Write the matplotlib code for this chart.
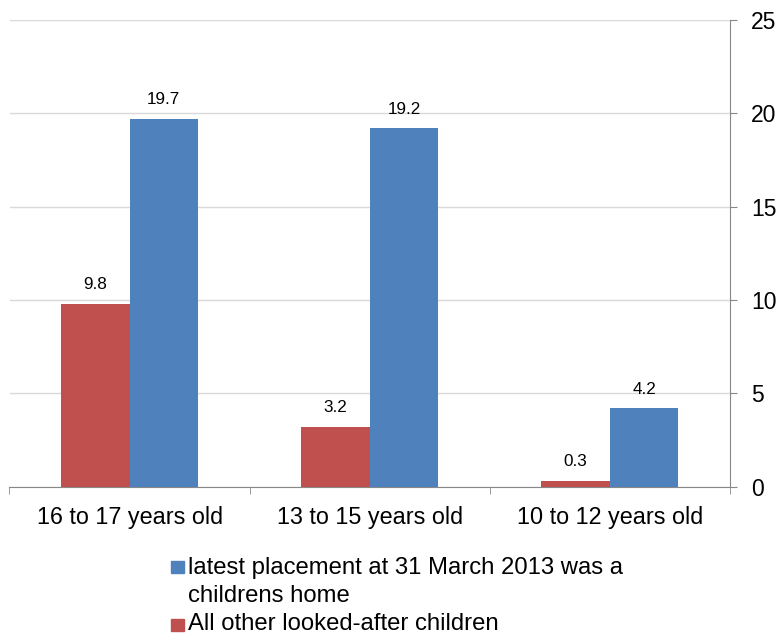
import matplotlib
matplotlib.use("Agg")
import matplotlib.pyplot as plt
from matplotlib.patches import Rectangle
import numpy as np

categories = ["16 to 17 years old", "13 to 15 years old", "10 to 12 years old"]
childrens_home = [19.7, 19.2, 4.2]
all_other = [9.8, 3.2, 0.3]
series_labels = ["latest placement at 31 March 2013 was a\nchildrens home",
                 "All other looked-after children"]
yticks = [0, 5, 10, 15, 20, 25]

RED = "#C0504D"
BLUE = "#4F81BD"
plt.rcParams["font.family"] = ["Liberation Sans", "DejaVu Sans"]

W, H = 779, 635
fig = plt.figure(figsize=(W/100, H/100), dpi=100)
ax = fig.add_axes([9.5/W, 1-486.5/H, 720.5/W, 466.5/H])

x = np.arange(len(categories))
w = 0.285
b1 = ax.bar(x - w/2, all_other, w, color=RED, zorder=3)
b2 = ax.bar(x + w/2, childrens_home, w, color=BLUE, zorder=3)

for bars, vals in ((b1, all_other), (b2, childrens_home)):
    for r, v in zip(bars, vals):
        ax.annotate(f"{v}", (r.get_x() + r.get_width()/2, v), xytext=(0, 10.5),
                    textcoords="offset points", ha="center", va="baseline", fontsize=12.3)

ax.set_xlim(-0.5, 2.5)
ax.set_ylim(0, 25)
ax.set_yticks(yticks)
ax.yaxis.tick_right()
ax.tick_params(axis="y", which="both", length=5, direction="out", color="#888888",
               labelsize=16.5, pad=10, right=True, left=False)
ax.set_xticks(x)
ax.set_xticklabels(categories, fontsize=16.8)
ax.tick_params(axis="x", which="major", length=0, pad=14)
ax.set_xticks([-0.5, 0.5, 1.5, 2.5], minor=True)
ax.tick_params(axis="x", which="minor", length=5, direction="out", color="#888888")
ax.grid(axis="y", color="#D9D9D9", linewidth=1, zorder=0)
for s in ["top", "left"]:
    ax.spines[s].set_visible(False)
ax.spines["right"].set_color("#888888")
ax.spines["bottom"].set_color("#888888")

# legend drawn manually so the marker sits on the first line of the wrapped label
legend_colors = [BLUE, RED]
sq_tops = [560.7, 618.5]
baselines = [[574.0, 601.7], [630.5]]
for col, top, label, bls in zip(legend_colors, sq_tops, series_labels, baselines):
    fig.patches.append(Rectangle((171/W, 1-(top+12)/H), 13/W, 12/H,
                                 transform=fig.transFigure, color=col))
    for line, bl in zip(label.split("\n"), bls):
        fig.text(188/W, 1-bl/H, line, fontsize=17.2, ha="left", va="baseline")

fig.savefig("out.png", dpi=100)
